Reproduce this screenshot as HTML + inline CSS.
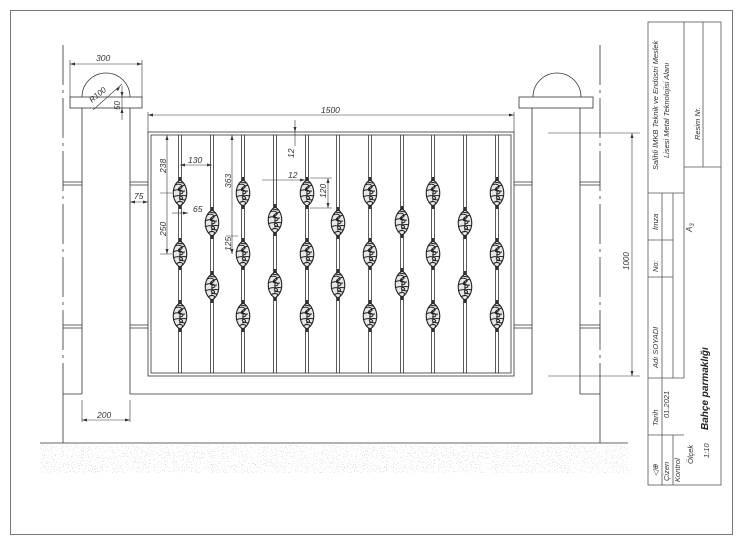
<!DOCTYPE html>
<html><head><meta charset="utf-8"><style>
html,body{margin:0;padding:0;background:#fff;}
svg{display:block;}
text{font-family:"Liberation Sans",sans-serif;font-style:italic;fill:#333;}
</style></head><body>
<svg width="750" height="546" viewBox="0 0 750 546" xmlns="http://www.w3.org/2000/svg">
<defs>
<filter id="spk" x="0" y="0" width="100%" height="100%">
<feTurbulence type="fractalNoise" baseFrequency="0.9" numOctaves="1" seed="3"/>
<feColorMatrix type="matrix" values="0 0 0 0 0.68  0 0 0 0 0.68  0 0 0 0 0.68  0 0 0 -24 8.9"/>
</filter>
<g id="orn">
<line x1="0" y1="-16" x2="0" y2="-12" stroke="#333" stroke-width="2.4"/>
<line x1="0" y1="12" x2="0" y2="16" stroke="#333" stroke-width="2.4"/>
<path d="M0,-13 C9,-8 9,8 0,13 C-9,8 -9,-8 0,-13Z" fill="#e8e8e8" stroke="#222" stroke-width="1.1"/>
<path d="M-5,-8 C1,-11 6,-5 -2,-4 M-7,-2 C0,-6 7,0 0,1 M-7,4 C0,0 7,6 -1,7 M-4,10 C0,7 4,9 2,11 M5,-8 C-2,-6 -6,-1 5,-2 M7,3 C0,1 -5,6 5,7 M-3,-11 L3,-10 M-1,-5 C2,-3 -2,2 1,3" fill="none" stroke="#222" stroke-width="1"/>
</g>
</defs>
<rect x="10.5" y="10.5" width="722" height="524" fill="none" stroke="#777" stroke-width="1"/>

<g stroke="#333" stroke-width="0.8" fill="none">
<line x1="63" y1="45" x2="63" y2="394" stroke-dasharray="40 5 3 5"/>
<line x1="63" y1="394" x2="63" y2="443"/>
<line x1="600" y1="45" x2="600" y2="394" stroke-dasharray="40 5 3 5"/>
<line x1="600" y1="394" x2="600" y2="443"/>
<line x1="40" y1="443" x2="628" y2="443"/>
<path d="M82,108 V394 M130,108 V394"/>
<rect x="70" y="97" width="72" height="11"/>
<path d="M82,97 A24,24 0 0 1 130,97"/>
<path d="M532,108 V394 M580,108 V394"/>
<rect x="519" y="97" width="74" height="11"/>
<path d="M533,97 A24,24 0 0 1 581,97"/>
<path d="M63,394 H82 M130,394 H532 M580,394 H600"/>
<path d="M63,182 H82 M63,185 H82 M130,182 H148 M130,185 H148 M514,182 H532 M514,185 H532 M580,182 H600 M580,185 H600"/>
<path d="M63,325 H82 M63,328 H82 M130,325 H148 M130,328 H148 M514,325 H532 M514,328 H532 M580,325 H600 M580,328 H600"/>
<rect x="148" y="132" width="366" height="244"/>
<rect x="151" y="135" width="360" height="238"/>
<path d="M178.5,135V373 M181.5,135V373 M210.5,135V373 M213.5,135V373 M241.5,135V373 M244.5,135V373 M273.5,135V373 M276.5,135V373 M305.5,135V373 M308.5,135V373 M336.5,135V373 M339.5,135V373 M368.5,135V373 M371.5,135V373 M400.5,135V373 M403.5,135V373 M431.5,135V373 M434.5,135V373 M463.5,135V373 M466.5,135V373 M495.5,135V373 M498.5,135V373"/>
</g>
<g>
<use href="#orn" x="180" y="193"/><use href="#orn" x="180" y="254"/><use href="#orn" x="180" y="316"/>
<use href="#orn" x="243" y="193"/><use href="#orn" x="243" y="254"/><use href="#orn" x="243" y="316"/>
<use href="#orn" x="307" y="193"/><use href="#orn" x="307" y="254"/><use href="#orn" x="307" y="316"/>
<use href="#orn" x="370" y="193"/><use href="#orn" x="370" y="254"/><use href="#orn" x="370" y="316"/>
<use href="#orn" x="433" y="193"/><use href="#orn" x="433" y="254"/><use href="#orn" x="433" y="316"/>
<use href="#orn" x="497" y="193"/><use href="#orn" x="497" y="254"/><use href="#orn" x="497" y="316"/>
<use href="#orn" x="212" y="223"/><use href="#orn" x="212" y="287"/>
<use href="#orn" x="275" y="220"/><use href="#orn" x="275" y="285"/>
<use href="#orn" x="338" y="223"/><use href="#orn" x="338" y="285"/>
<use href="#orn" x="402" y="222"/><use href="#orn" x="402" y="284"/>
<use href="#orn" x="465" y="223"/><use href="#orn" x="465" y="287"/>
</g>
<rect x="40" y="445" width="588" height="28" filter="url(#spk)"/>

<g stroke="#333" stroke-width="0.6" fill="none">
<path d="M70,60 V97 M142,60 V97 M70,64 H142"/>
<path d="M93,110 L122,84"/>
<path d="M122,86 V120"/>
<path d="M148,112 V132 M514,112 V132 M148,115 H514"/>
<path d="M295,120 V146"/>
<path d="M167,135 V254 M160,193 H172 M160,254 H172"/>
<path d="M180,165 H212"/>
<path d="M232,135 V254 M226,236 H238"/>
<path d="M262,180 H305"/>
<path d="M310,178 H332 M310,208 H332 M328,178 V208"/>
<path d="M130,202 H148"/>
<path d="M172,213 H188"/>
<path d="M82,400 V422 M130,400 V422 M82,420 H130"/>
<path d="M548,133 H640 M548,376 H640 M632,133 V376"/>
</g>
<g fill="#333">
<path d="M70,64 l5,-1.5 v3z M142,64 l-5,-1.5 v3z"/>
<path d="M148,115 l5,-1.5 v3z M514,115 l-5,-1.5 v3z"/>
<path d="M632,133 l-1.5,5 h3z M632,376 l-1.5,-5 h3z"/>
<path d="M82,420 l5,-1.5 v3z M130,420 l-5,-1.5 v3z"/>
<path d="M180,165 l5,-1.5 v3z M212,165 l-5,-1.5 v3z"/>
<path d="M328,178 l-1.5,5 h3z M328,208 l-1.5,-5 h3z"/>
<path d="M167,135 l-1.5,5 h3z M167,254 l-1.5,-5 h3z M232,135 l-1.5,5 h3z M232,254 l-1.5,-5 h3z"/>
<path d="M295,132 l-1.5,-5 h3z M122,97 l-1.5,-5 h3z M122,108 l-1.5,5 h3z M120,87 l-4,2 2,2z"/>
<path d="M148,202 l-5,-1.5 v3z M130,202 l5,-1.5 v3z M305,180 l-5,-1.5 v3z M188,213 l-5,-1.5 v3z"/>
</g>
<g font-size="8.5">
<text x="96" y="61">300</text>
<text x="0" y="0" transform="translate(92,103) rotate(-40)" font-size="8">R100</text>
<text x="0" y="0" transform="translate(120,110) rotate(-90)" font-size="8">50</text>
<text x="321" y="113">1500</text>
<text x="0" y="0" transform="translate(294,158) rotate(-90)">12</text>
<text x="0" y="0" transform="translate(166,173) rotate(-90)">238</text>
<text x="188" y="163">130</text>
<text x="0" y="0" transform="translate(231,188) rotate(-90)">363</text>
<text x="288" y="178">12</text>
<text x="0" y="0" transform="translate(326,198) rotate(-90)">120</text>
<text x="134" y="199">75</text>
<text x="193" y="212">65</text>
<text x="0" y="0" transform="translate(166,236) rotate(-90)">250</text>
<text x="0" y="0" transform="translate(231,251) rotate(-90)">125</text>
<text x="97" y="418">200</text>
<text x="0" y="0" transform="translate(629,270) rotate(-90)" font-size="8">1000</text>
</g>

<g stroke="#555" stroke-width="0.8" fill="none">
<rect x="648" y="22" width="73" height="463"/>
<path d="M684,22 V378 M703,22 V167 M684,167 H721"/>
<path d="M648,193 H684 M662,193 V485 M673,193 V378 M673,378 H684"/>
<path d="M648,240 H673 M648,277 H673 M648,378 H673 M648,435 H684 M673,435 V485"/>
</g>
<g font-size="7.5">
<text transform="translate(658,170) rotate(-90)">Salihli İMKB Teknik ve Endüstri Meslek</text>
<text transform="translate(669,158) rotate(-90)">Lisesi Metal Teknolojisi Alanı</text>
<text transform="translate(700,140) rotate(-90)">Resim Nr.</text>
<text transform="translate(692,232) rotate(-90)" font-size="8">A<tspan font-size="6" dy="2">3</tspan></text>
<text transform="translate(658,230) rotate(-90)">İmza</text>
<text transform="translate(658,272) rotate(-90)">No:</text>
<text transform="translate(658,368) rotate(-90)">Adı SOYADI</text>
<text transform="translate(658,426) rotate(-90)">Tarih</text>
<text transform="translate(669,418) rotate(-90)">01.2021</text>
<text transform="translate(658,476) rotate(-90)">◁⊕</text>
<text transform="translate(669,481) rotate(-90)">Çizen</text>
<text transform="translate(680,482) rotate(-90)">Kontrol</text>
<text transform="translate(693,464) rotate(-90)">Ölçek</text>
<text transform="translate(709,458) rotate(-90)">1:10</text>
<text transform="translate(708,430) rotate(-90)" font-size="10" font-weight="bold" style="fill:#222">Bahçe parmaklığı</text>
</g>
</svg>
</body></html>
